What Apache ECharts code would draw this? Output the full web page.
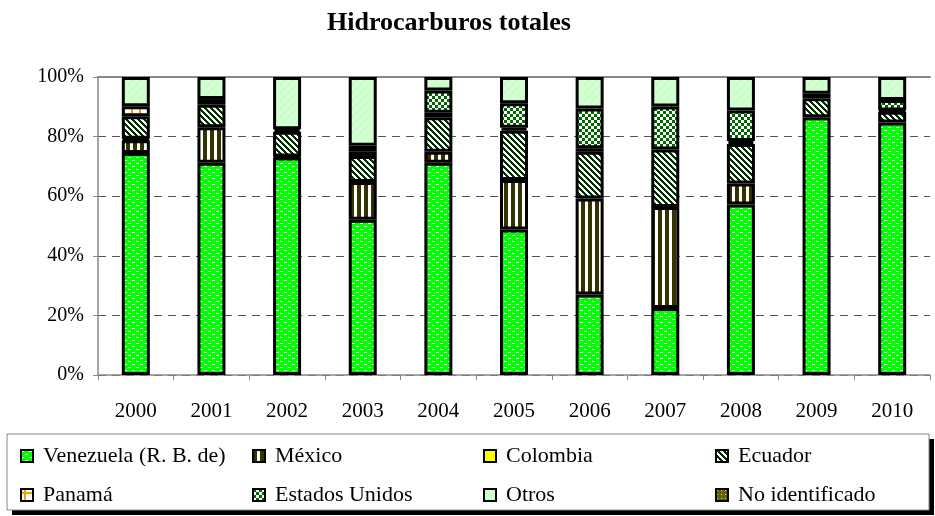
<!DOCTYPE html>
<html><head><meta charset="utf-8">
<script src="https://cdn.jsdelivr.net/npm/echarts@6/dist/echarts.min.js"></script>
<style>html,body{margin:0;padding:0;background:#fff}#c{width:935px;height:516px}</style>
</head><body><div id="c"></div>
<script>
const years = ['2000','2001','2002','2003','2004','2005','2006','2007','2008','2009','2010'];
const yTicks = [0,20,40,60,80,100];
const venezuela = [74.5, 71.2, 73.0, 52.1, 71.2, 48.8, 27.0, 22.5, 57.2, 86.5, 84.7];
const mexico    = [4.3, 11.9, 0.3, 12.7, 3.7, 16.6, 32.2, 33.9, 7.1, 0, 0];
const colombia  = [0.5, 0, 0, 0, 0, 0, 0, 0, 0, 0, 0];
const ecuador   = [7.5, 7.6, 8.3, 8.7, 11.6, 16.6, 15.7, 19.3, 13.2, 6.4, 3.6];
const noIdent   = [0, 1.9, 0.9, 1.4, 1.5, 0, 1.2, 0, 1.0, 1.5, 0.5];
const panama    = [3.4, 0, 0, 0, 0, 1.0, 0, 0, 0, 0, 0];
const eeuu      = [0, 0, 0, 2.0, 7.5, 8.2, 13.3, 14.4, 10.3, 0, 3.5];
const otros     = [9.8, 7.4, 17.5, 23.1, 4.5, 8.8, 10.6, 9.9, 11.2, 5.6, 7.7];

function pat(w, h, draw){
  const c = document.createElement('canvas'); c.width = w; c.height = h;
  const g = c.getContext('2d'); draw(g, w, h);
  return {image: c, repeat: 'repeat'};
}
const pVen = pat(8,6,(g)=>{g.fillStyle='#00FF00';g.fillRect(0,0,8,6);g.fillStyle='#fff';g.fillRect(0,1,3,1);g.fillRect(4,4,3,1);});
const pMex = pat(7,4,(g)=>{g.fillStyle='#fff';g.fillRect(0,0,7,4);g.fillStyle='#333300';g.fillRect(0,0,4,4);});
const pEcu = pat(6,6,(g)=>{g.fillStyle='#fff';g.fillRect(0,0,6,6);g.fillStyle='#003300';for(let y=0;y<6;y++)for(let x=0;x<6;x++){if(((x-y)%6+6)%6<3)g.fillRect(x,y,1,1);}});
const pUS  = pat(6,6,(g)=>{g.fillStyle='#fff';g.fillRect(0,0,6,6);g.fillStyle='#006600';g.fillRect(0,0,3,3);g.fillRect(3,3,3,3);});
const pOtr = pat(8,8,(g)=>{g.fillStyle='#CCFFCC';g.fillRect(0,0,8,8);g.fillStyle='#E6FFE6';for(let y=0;y<8;y++)for(let x=0;x<8;x++){if((x+y)%8===0)g.fillRect(x,y,1,1);}});
const pPan = pat(8,8,(g)=>{g.fillStyle='#fff';g.fillRect(0,0,8,8);g.fillStyle='#FF9900';g.fillRect(0,3,8,2);g.fillRect(3,0,2,8);});
const pNI  = pat(4,4,(g)=>{g.fillStyle='#666600';g.fillRect(0,0,4,4);g.fillStyle='#CCCC66';g.fillRect(1,1,1,1);});

const F = 'Liberation Serif, Times New Roman, serif';
const defs = [
  ['Venezuela (R. B. de)', venezuela, pVen],
  ['México', mexico, pMex],
  ['Colombia', colombia, '#FFFF00'],
  ['Ecuador', ecuador, pEcu],
  ['No identificado', noIdent, pNI],
  ['Panamá', panama, pPan],
  ['Estados Unidos', eeuu, pUS],
  ['Otros', otros, pOtr]
];
const series = defs.map(d => ({
  name: d[0], type: 'bar', stack: 'total', barWidth: 28,
  data: d[1].map(v => v === 0 ? null : v),
  itemStyle: {color: d[2], borderColor: '#000', borderWidth: 3},
  emphasis: {disabled: true}
}));

const legendItems = [
  ['Venezuela (R. B. de)', 20, 456], ['México', 252, 456], ['Colombia', 483, 456], ['Ecuador', 715, 456],
  ['Panamá', 20, 495], ['Estados Unidos', 252, 495], ['Otros', 483, 495], ['No identificado', 715, 495]
];
const legends = legendItems.map(it => ({
  left: it[1], top: it[2] - 11, padding: 0, orient: 'horizontal', data: [it[0]],
  itemWidth: 12, itemHeight: 12, icon: 'rect',
  itemStyle: {borderColor: '#000', borderWidth: 2},
  textStyle: {fontFamily: F, fontSize: 22, color: '#000', lineHeight: 22, padding: [0,0,0,5]},
  selectedMode: false
}));

const chart = echarts.init(document.getElementById('c'), null, {renderer: 'canvas'});
chart.setOption({
  animation: false,
  backgroundColor: '#fff',
  title: {text: 'Hidrocarburos totales', left: 444, top: 5, textAlign: 'center',
    textStyle: {fontFamily: F, fontSize: 26, fontWeight: 'bold', color: '#000'}},
  graphic: [
    {type: 'rect', shape: {x: 12, y: 439, width: 922, height: 76}, style: {fill: '#000'}, z: -1},
    {type: 'rect', shape: {x: 7, y: 434, width: 922, height: 76}, style: {fill: '#fff', stroke: '#888', lineWidth: 1}, z: 0}
  ],
  legend: legends,
  grid: {left: 98, right: 5, top: 77, bottom: 141},
  xAxis: [{
    type: 'category', data: years,
    axisLine: {lineStyle: {color: '#888', width: 1.5}},
    axisTick: {show: true, length: 5, lineStyle: {color: '#888'}},
    axisLabel: {fontFamily: F, fontSize: 21, color: '#000', margin: 26}
  }, {
    type: 'category', data: years, position: 'top',
    axisLine: {show: true, lineStyle: {color: '#888', width: 2}},
    axisTick: {show: false}, axisLabel: {show: false}
  }],
  yAxis: {
    type: 'value', min: 0, max: 100, interval: 20,
    axisLine: {show: true, lineStyle: {color: '#888', width: 1.5}},
    axisTick: {show: true, length: 5, lineStyle: {color: '#888'}},
    axisLabel: {fontFamily: F, fontSize: 20, color: '#000', margin: 14, formatter: v => yTicks.includes(v) ? v + '%' : ''},
    splitLine: {show: true, lineStyle: {color: '#555', type: [8, 6], width: 1}}
  },
  series: series
});
</script></body></html>
